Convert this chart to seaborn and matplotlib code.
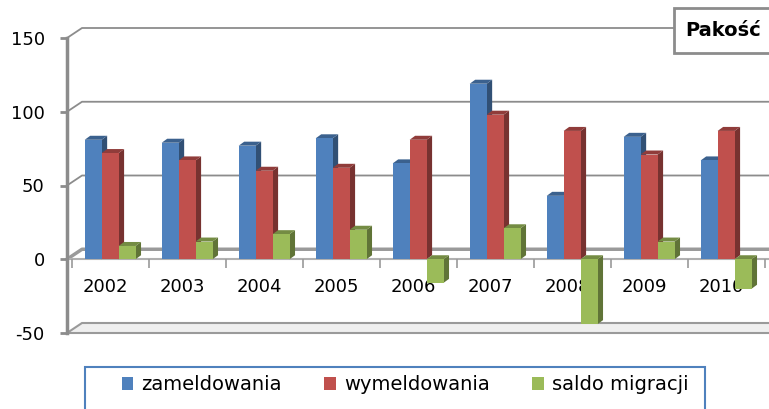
import numpy as np
import pandas as pd
import seaborn as sns
import matplotlib.colors as mcolors
from matplotlib import pyplot as plt
from matplotlib.patches import Patch, Polygon, Rectangle

lata = ['2002', '2003', '2004', '2005', '2006', '2007', '2008', '2009', '2010']
zameldowania = [81, 79, 77, 82, 65, 119, 43, 83, 67]
wymeldowania = [72, 67, 60, 62, 81, 98, 87, 71, 87]
saldo_migracji = [9, 12, 17, 20, -16, 21, -44, 12, -20]
serie = ['zameldowania', 'wymeldowania', 'saldo migracji']
kolory = ['#4F81BD', '#C0504D', '#9BBB59']
y_ticks = [-50, 0, 50, 100, 150]

df = pd.DataFrame({'rok': lata * 3,
                   'wartosc': zameldowania + wymeldowania + saldo_migracji,
                   'seria': [s for s in serie for _ in lata]})

W, H = 769, 409
fig = plt.figure(figsize=(W / 100, H / 100), dpi=100)
ax = fig.add_axes([67 / W, (H - 333) / H, 693 / W, 295 / H])

sns.barplot(data=df, x='rok', y='wartosc', hue='seria', palette=kolory,
            width=0.66, saturation=1, legend=False, ax=ax, zorder=3)

ax.set_xlim(-0.56, 8.44)
ax.set_ylim(-50, 150)
ax.set_xlabel('')
ax.set_ylabel('')
for s in ['top', 'right', 'bottom']:
    ax.spines[s].set_visible(False)
ax.spines['left'].set_color('#8c8c8c')
ax.spines['left'].set_linewidth(2.5)
ax.set_xticks([])
ax.set_yticks(y_ticks)
ax.set_yticklabels([str(v) for v in y_ticks], fontsize=13)
ax.tick_params(axis='y', length=5, width=2, color='#8c8c8c', pad=11)


def px2data(dx, dy):
    inv = ax.transData.inverted()
    x0, y0 = inv.transform((0, 0))
    x1, y1 = inv.transform((dx, dy))
    return x1 - x0, y1 - y0


# 3d look of the bars
bdx, bdy = px2data(5.5, 4)
for p in list(ax.patches):
    bb = p.get_bbox()
    x0, x1 = sorted([bb.x0, bb.x1])
    y0, y1 = sorted([bb.y0, bb.y1])
    c = np.array(mcolors.to_rgb(p.get_facecolor()))
    side = Polygon([(x1, y0), (x1 + bdx, y0 + bdy), (x1 + bdx, y1 + bdy), (x1, y1)],
                   closed=True, fc=c * 0.62, ec='none', zorder=2.5)
    top = Polygon([(x0, y1), (x0 + bdx, y1 + bdy), (x1 + bdx, y1 + bdy), (x1, y1)],
                  closed=True, fc=c * 0.75, ec='none', zorder=2.5)
    ax.add_patch(side)
    ax.add_patch(top)
    p.set_edgecolor('none')

# back wall grid
gdx, gdy = px2data(15, 10)
xl = -0.56
xr = 8.7
for v in [50, 100, 150]:
    ax.plot([xl, xl + gdx, xr], [v, v + gdy, v + gdy], color='#8c8c8c',
            lw=1.3, zorder=0, clip_on=False)
# zero plane
ax.plot([xl, xl + gdx, xr], [0, gdy, gdy], color='#9a9a9a', lw=2.5,
        zorder=1, clip_on=False)
ax.plot([xl, 8.6], [0, 0], color='#b0b0b0', lw=1.5, zorder=1, clip_on=False)
ax.vlines([i + 0.5 for i in range(-1, 9)], -6, 0, color='#9a9a9a', lw=1.2,
          zorder=1, clip_on=False)
# floor at -50
ax.add_patch(Polygon([(xl, -50), (xl + gdx, -50 + gdy), (8.6 + gdx, -50 + gdy),
                      (8.6, -50)], closed=True, fc='#efefef', ec='#9a9a9a',
                     lw=1.5, zorder=0, clip_on=False))

for i, rok in enumerate(lata):
    ax.text(i - 0.06, -19, rok, ha='center', va='center', fontsize=13, zorder=1)

# title box
fig.patches.append(Rectangle((674 / W, (H - 53) / H), 110 / W, 45 / H,
                             transform=fig.transFigure, fc='white',
                             ec='#8c8c8c', lw=2, zorder=10))
fig.text(723 / W, 1 - 31 / H, 'Pakość', fontsize=14, fontweight='bold',
         ha='center', va='center', zorder=11)

# legend
fig.patches.append(Rectangle((85 / W, -0.05), 620 / W, (H - 367) / H + 0.05,
                             transform=fig.transFigure, fc='white',
                             ec='#4F81BD', lw=1.5, zorder=10))
handles = [Patch(fc=k, ec='none') for k in kolory]
leg = fig.legend(handles, serie, loc='center', ncol=3, frameon=False,
                 bbox_to_anchor=(405 / W, 1 - 385 / H), fontsize=14,
                 handlelength=0.6, handleheight=0.6, handletextpad=0.4,
                 columnspacing=2.2)
leg.set_zorder(12)

fig.savefig('out.png', dpi=100)
